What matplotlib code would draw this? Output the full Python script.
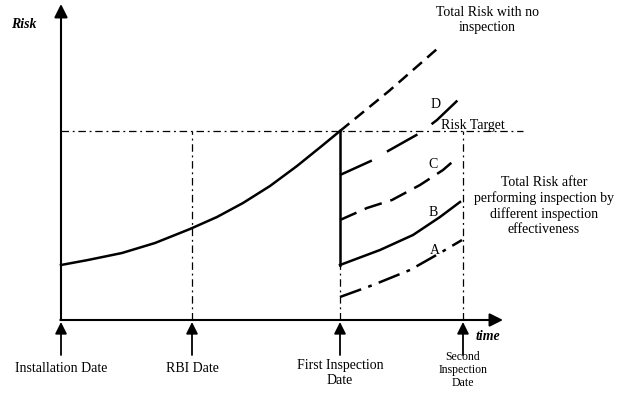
import matplotlib.pyplot as plt

plt.rcParams['font.family'] = ['Liberation Serif', 'DejaVu Serif']

# time / risk values (arbitrary units, origin at axes corner)
dates = [0, 131, 279, 402]
date_labels = ['Installation Date', 'RBI Date', 'First Inspection\nDate',
               'Second\nInspection\nDate']
risk_target = 189

# risk before first inspection
t_base = [0, 27, 61, 94, 129, 156, 182, 209, 236, 262, 279]
r_base = [55, 60, 67, 77, 91, 103, 117, 134, 154, 175, 189]

# total risk with no inspection
t_none = [279, 328, 376]
r_none = [189, 229, 271]

# risk after inspection, by effectiveness
t_D = [279, 312, 327, 359, 376, 398]
r_D = [145, 160, 169, 187, 200, 221]
t_C = [279, 306, 331, 359, 382, 397]
r_C = [100, 112, 120, 135, 150, 163]
t_B = [279, 319, 352, 379, 399]
r_B = [55, 70, 85, 103, 118]
t_A = [279, 312, 349, 379, 401]
r_A = [23, 35, 50, 67, 80]

fig = plt.figure(figsize=(6.24, 3.99), dpi=100)
ax = fig.add_axes([0, 0, 1, 1])
ax.set_xlim(-61, 563)
ax.set_ylim(-79, 320)
ax.axis('off')

lw = 1.8
ax.plot(t_base, r_base, color='black', lw=lw, solid_joinstyle='round')
ax.plot(t_none, r_none, color='black', lw=lw, linestyle=(0, (4.8, 2.8)))
ax.plot([dates[2], dates[2]], [r_base[-1], r_B[0]], color='black', lw=lw)
ax.plot(t_D, r_D, color='black', lw=lw, linestyle=(0, (14, 7)))
ax.plot(t_C, r_C, color='black', lw=lw, linestyle=(0, (7.2, 3.6)))
ax.plot(t_B, r_B, color='black', lw=lw, solid_joinstyle='round')
ax.plot(t_A, r_A, color='black', lw=lw, linestyle=(0, (9, 3, 1.5, 3)))

# risk target and date guide lines
dd = (0, (6, 3, 1.5, 3))
ax.plot([0, 462], [risk_target, risk_target], color='black', lw=0.9, linestyle=dd)
ax.plot([dates[1], dates[1]], [0, risk_target], color='black', lw=0.9, linestyle=dd)
ax.plot([dates[2], dates[2]], [0, r_B[0]], color='black', lw=0.9, linestyle=dd)
ax.plot([dates[3], dates[3]], [0, risk_target], color='black', lw=0.9, linestyle=dd)

# axes with arrows
ax.annotate('', xy=(0, 316), xytext=(0, 0),
            arrowprops=dict(arrowstyle='-|>,head_length=0.8,head_width=0.4',
                            color='black', lw=1.5, shrinkA=0, shrinkB=0))
ax.annotate('', xy=(442, 0), xytext=(-0.7, 0),
            arrowprops=dict(arrowstyle='-|>,head_length=0.8,head_width=0.4',
                            color='black', lw=1.5, shrinkA=0, shrinkB=0))
ax.text(-37, 295, 'Risk', fontsize=10, fontweight='bold', fontstyle='italic',
        ha='center', va='center')
ax.text(427, -17, 'time', fontsize=10, fontweight='bold', fontstyle='italic',
        ha='center', va='center')

# date arrows and labels
for i, (d, lab) in enumerate(zip(dates, date_labels)):
    ax.annotate('', xy=(d, -2), xytext=(d, -35),
                arrowprops=dict(arrowstyle='-|>,head_length=0.7,head_width=0.35',
                                color='black', lw=1.3, shrinkA=0, shrinkB=0))
    if i == 3:
        ax.text(d, -50, lab, fontsize=8.5, ha='center', va='center', linespacing=1.15)
    elif i == 2:
        ax.text(d, -53, lab, fontsize=10, ha='center', va='center', linespacing=1.2)
    else:
        ax.text(d, -48, lab, fontsize=10, ha='center', va='center')

ax.text(426, 300, 'Total Risk with no\ninspection', fontsize=10,
        ha='center', va='center', linespacing=1.1)
ax.text(412, 194, 'Risk Target', fontsize=10, ha='center', va='center')
ax.text(483, 114, 'Total Risk after\nperforming inspection by\ndifferent inspection\neffectiveness',
        fontsize=10, ha='center', va='center', linespacing=1.2)
for lab, t, r in [('D', 375, 216), ('C', 372, 156), ('B', 372, 107), ('A', 374, 70)]:
    ax.text(t, r, lab, fontsize=10, ha='center', va='center')

fig.savefig('out.png', dpi=100)
